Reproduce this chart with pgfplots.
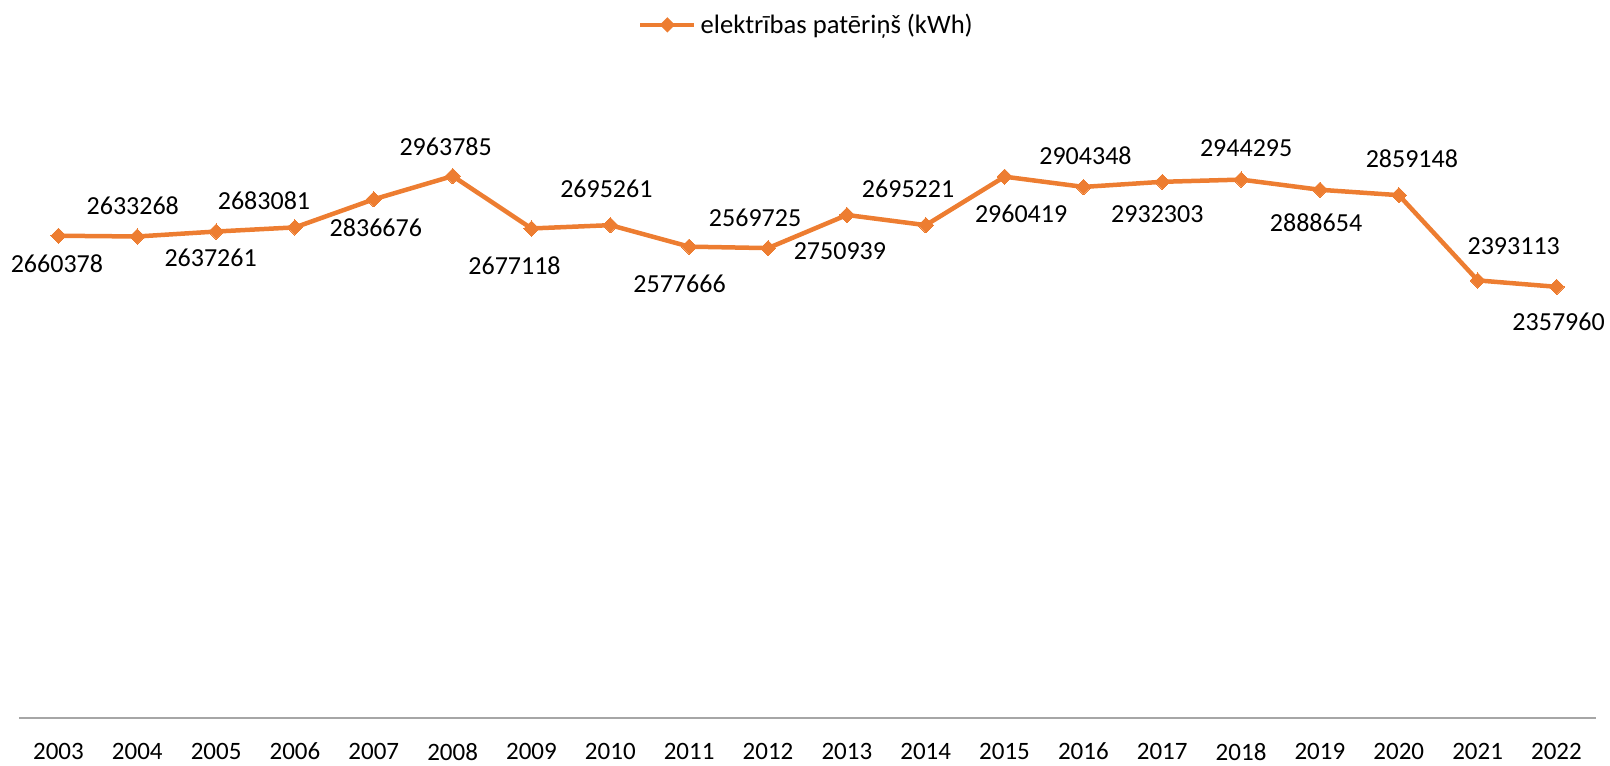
\documentclass[border=0pt]{standalone}
\usepackage{pgfplots}
\pgfplotsset{compat=1.18}
\usepackage{pgfplotstable}
\usepackage{fontspec}
\setmainfont{Carlito}

\definecolor{xlorange}{HTML}{ED7D31}
\definecolor{axisgray}{HTML}{A6A6A6}

% year, plotted value, label text, label shift x / y (pt)
\pgfplotstableread{
yr   val      lbl      dx      dy
2003 2637261  2660378  -0.75  -14.2
2004 2633268  2633268  -2.25   15.15
2005 2660378  2637261  -2.75  -13.35
2006 2683081  2683081  -15.5   13.3
2007 2836676  2836676   1     -14
2008 2963785  2963785  -3.5    14.5
2009 2677118  2677118  -8.5   -18.5
2010 2695261  2695261  -2      18
2011 2577666  2577666  -4.85  -18.5
2012 2569725  2569725  -6.5    15
2013 2750939  2750939  -3.5   -18
2014 2695221  2695221  -8.85   18.3
2015 2960419  2960419   8.25  -18.35
2016 2904348  2904348   1      15.5
2017 2932303  2932303  -2.5   -16.35
2018 2944295  2944295   2.5    15.5
2019 2888654  2888654  -2     -16.5
2020 2859148  2859148   6.5    18
2021 2393113  2393113  18      17.2
2022 2357960  2357960   1     -17.5
}\consumption

\begin{document}
\begin{tikzpicture}
\useasboundingbox (-9.5pt,-23.5pt) rectangle (795.5pt,359pt);
\begin{axis}[
    at={(0,0)}, anchor=south west,
    scale only axis,
    width=788.5pt, height=320pt,
    xmin=2002.5, xmax=2022.5,
    ymin=0, ymax=3500000,
    clip=false,
    axis x line=bottom,
    axis y line=none,
    x axis line style={-, color=axisgray, line width=0.75pt},
    xtick={2003,...,2022},
    major tick length=0pt,
    xticklabel={\pgfmathprintnumber[1000 sep={}]{\tick}},
    /pgf/number format/assume math mode=true,
    xticklabel style={font=\fontsize{12.5}{14}\selectfont, anchor=center,
        inner sep=0pt, yshift=-16.8pt},
    ytick=\empty,
    legend style={at={(0.5,1.083)}, anchor=center, draw=none, fill=none,
        font=\fontsize{13.3}{15}\selectfont, inner sep=0pt},
    legend image code/.code={
        \draw[xlorange, line width=2.25pt] (0pt,0pt) -- (27pt,0pt);
        \node[xlorange, fill=xlorange, draw=none, rotate=45, inner sep=0pt,
              minimum size=5.4pt] at (13.5pt,0pt) {};
    },
]
\addplot[
    color=xlorange, line width=2.25pt,
    mark=square*, mark size=2.7pt,
    mark options={rotate=45, fill=xlorange, draw=xlorange, line width=0pt},
    point meta=explicit symbolic,
    nodes near coords,
    visualization depends on={\thisrow{dx} \as \mydx},
    visualization depends on={\thisrow{dy} \as \mydy},
    every node near coord/.append style={anchor=center,
        xshift=\mydx pt, yshift=\mydy pt,
        text=black, font=\fontsize{13}{15}\selectfont},
] table[x=yr, y=val, meta=lbl] {\consumption};
\addlegendentry{elektrības patēriņš (kWh)}
\end{axis}
\end{tikzpicture}
\end{document}
